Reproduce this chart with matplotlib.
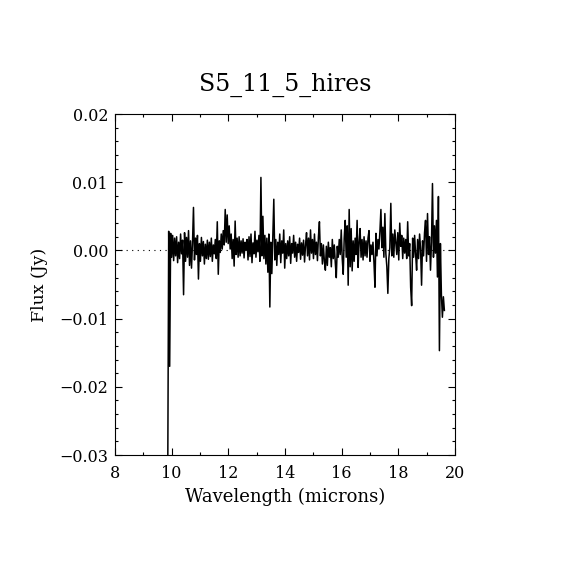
import numpy as np
import matplotlib
matplotlib.use('Agg')
import matplotlib.pyplot as plt
from matplotlib.ticker import MultipleLocator

# flux, mJy, one row = 20 samples (~0.7 micron)
flux_mjy = [
    -35.0, 2.8, -17.0, 2.5, -1.0, 2.2, -1.5, 1.8, -0.8, 2.0, -1.8, 1.2, -1.2, 2.4, -0.5, 1.5, -6.5, 2.6, -1.6, 1.9,
    -1.0, 2.9, -2.2, 1.4, -2.6, 1.0, 6.3, -1.4, 1.8, -0.6, 2.2, -4.2, 1.0, -1.6, 1.9, -0.8, 1.3, -2.0, 0.9, -1.2,
    1.5, -1.3, 1.2, -0.9, 1.8, -1.6, 0.8, -0.5, 1.6, -1.2, 4.2, -3.5, 1.4, -0.3, 2.4, 0.2, 2.9, 0.8, 6.0, 1.2,
    5.2, 1.0, 3.6, 0.2, 2.4, -1.2, 1.6, -2.3, 4.3, -0.6, 1.8, -1.0, 2.0, -0.8, 1.4, -0.4, 1.7, -1.1, 1.2, 0.0,
    1.6, -1.4, 2.0, -0.9, 2.4, -1.8, 1.1, -0.5, 2.8, -1.0, 1.5, -0.2, 2.2, -1.6, 10.7, -0.8, 5.0, -1.2, 2.2, -2.0,
    1.8, -3.2, 2.4, -8.3, 1.2, -3.4, 2.0, 7.5, -1.4, 1.6, -2.2, 1.2, -0.6, 2.4, -1.8, 1.4, -0.4, 3.0, -2.6, 1.0,
    -1.2, 1.4, -0.8, 2.0, -1.9, 1.0, -0.4, 2.2, -1.0, 1.2, -1.6, 0.9, -0.3, 1.8, -1.3, 1.1, -0.7, 1.5, -1.7, 0.8,
    2.6, -0.8, 1.8, -1.4, 3.0, -0.4, 1.6, -1.2, 2.4, -0.6, 1.2, -1.5, 2.0, 4.2, -0.8, 1.0, -2.0, 0.8, -1.6, -2.9,
    0.6, -2.2, 1.2, -1.0, 0.4, -2.4, 1.6, -1.2, 0.8, -1.8, -4.0, 0.6, -1.0, 1.6, -0.6, 3.0, -1.2, -3.5, 1.8, 4.4,
    -1.0, 3.6, -5.1, 6.0, -2.4, 3.2, -3.0, 1.4, -1.6, 1.8, -0.6, 4.4, -2.5, 1.2, 3.2, -1.0, 1.6, -1.4, 2.0, -0.8,
    1.4, -1.0, 1.8, 2.9, -1.6, 0.8, -0.6, 1.2, -1.8, -5.4, 2.5, -0.8, 1.6, 0.2, 2.8, 6.0, 0.4, 3.4, -1.0, 5.4,
    -0.5, -2.4, -6.3, -1.2, 0.4, 6.9, -0.8, 2.4, -1.0, 3.0, 1.2, -0.6, 2.6, -1.4, 4.0, 0.6, 2.2, -1.2, 1.8, -0.4,
    1.6, -1.2, 4.2, -0.8, 1.0, -5.4, -8.1, 1.8, -1.0, 2.2, -0.6, -2.9, 1.6, -1.2, 2.4, 0.2, -5.1, 1.4, -0.8, 2.6,
    4.4, -1.6, 5.4, -0.6, 2.0, -2.9, 1.2, 9.8, -1.0, 3.6, -0.4, 4.4, -3.9, 7.9, -14.7, 1.0, -6.5, -9.8, -6.8, -8.8,
]
wave_start, wave_end = 9.86, 19.625

title = 'S5_11_5_hires'
xlabel = 'Wavelength (microns)'
ylabel = 'Flux (Jy)'

flux = np.array(flux_mjy) * 1e-3
wave = np.linspace(wave_start, wave_end, len(flux))

plt.rcParams['font.family'] = ['DejaVu Serif']

fig = plt.figure(figsize=(5.7, 5.7), dpi=100, facecolor='white')
ax = fig.add_axes([115 / 570, 115 / 570, 340 / 570, 341 / 570])

ax.axhline(0, color='black', lw=0.8, linestyle=(0, (1, 4)))
ax.plot(wave, flux, color='black', lw=1.1)

ax.set_xlim(8, 20)
ax.set_ylim(-0.03, 0.02)
ax.xaxis.set_major_locator(MultipleLocator(2))
ax.xaxis.set_minor_locator(MultipleLocator(1))
ax.yaxis.set_major_locator(MultipleLocator(0.01))
ax.yaxis.set_minor_locator(MultipleLocator(0.002))
ax.yaxis.set_major_formatter(plt.FuncFormatter(lambda v, p: f'{v:.2f}'.replace('-', '\u2212')))

ax.tick_params(which='both', direction='in', top=True, right=True, width=0.8, labelsize=11.5)
ax.tick_params(which='major', length=5)
ax.tick_params(which='minor', length=2.5)
ax.tick_params(axis='x', pad=7)
ax.tick_params(axis='y', pad=5)
for s in ax.spines.values():
    s.set_linewidth(0.8)

ax.set_title(title, fontsize=17, pad=17)
ax.set_xlabel(xlabel, fontsize=13, labelpad=4)
ax.set_ylabel(ylabel, fontsize=12.5, labelpad=8)

fig.savefig('out.png', dpi=100, facecolor='white')
